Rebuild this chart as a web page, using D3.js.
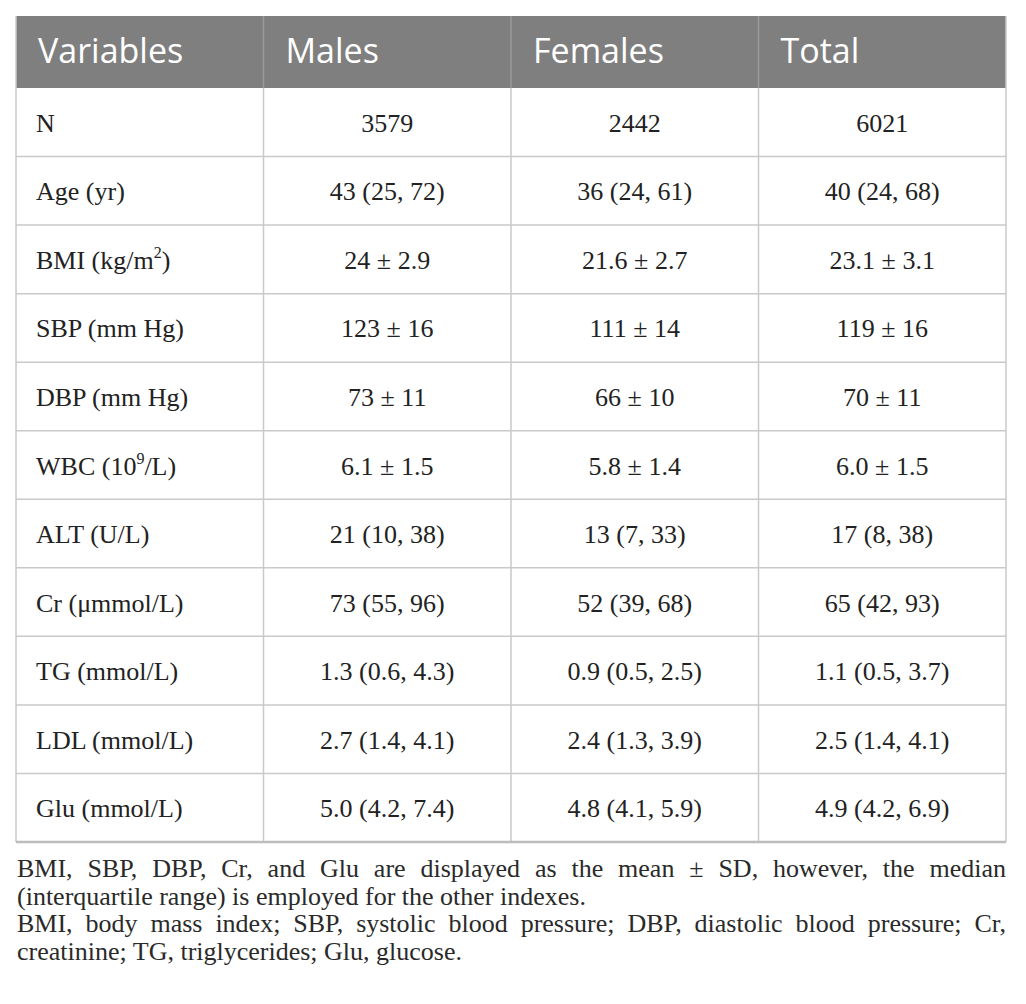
<!DOCTYPE html>
<html>
<head>
<meta charset="utf-8">
<script src="https://cdn.jsdelivr.net/npm/d3@7"></script>
<style>
  body { margin: 0; background: #fff; }
</style>
</head>
<body>
<div id="table"></div>
<script>
const width = 1026, height = 1004;

// Table content
const headers = ["Variables", "Males", "Females", "Total"];
const variables = ["N", "Age (yr)", "BMI (kg/m^2)", "SBP (mm Hg)", "DBP (mm Hg)", "WBC (10^9/L)",
    "ALT (U/L)", "Cr (\u03bcmmol/L)", "TG (mmol/L)", "LDL (mmol/L)", "Glu (mmol/L)"];
const males = ["3579", "43 (25, 72)", "24 \u00b1 2.9", "123 \u00b1 16", "73 \u00b1 11", "6.1 \u00b1 1.5",
    "21 (10, 38)", "73 (55, 96)", "1.3 (0.6, 4.3)", "2.7 (1.4, 4.1)", "5.0 (4.2, 7.4)"];
const females = ["2442", "36 (24, 61)", "21.6 \u00b1 2.7", "111 \u00b1 14", "66 \u00b1 10", "5.8 \u00b1 1.4",
    "13 (7, 33)", "52 (39, 68)", "0.9 (0.5, 2.5)", "2.4 (1.3, 3.9)", "4.8 (4.1, 5.9)"];
const total = ["6021", "40 (24, 68)", "23.1 \u00b1 3.1", "119 \u00b1 16", "70 \u00b1 11", "6.0 \u00b1 1.5",
    "17 (8, 38)", "65 (42, 93)", "1.1 (0.5, 3.7)", "2.5 (1.4, 4.1)", "4.9 (4.2, 6.9)"];
const footnotes = [
    ["BMI, SBP, DBP, Cr, and Glu are displayed as the mean \u00b1 SD, however, the median", true],
    ["(interquartile range) is employed for the other indexes.", false],
    ["BMI, body mass index; SBP, systolic blood pressure; DBP, diastolic blood pressure; Cr,", true],
    ["creatinine; TG, triglycerides; Glu, glucose.", false]
];

const table = {left: 16, right: 1006, top: 16, headerBottom: 88, bottom: 842};
const serif = "'Liberation Serif', 'DejaVu Serif', serif";
const gridColor = "#c9c9c9";

const svg = d3.select('#table').append('svg')
    .attr('width', width)
    .attr('height', height);

const x = d3.scaleBand()
    .domain(headers)
    .range([table.left, table.right]);

const y = d3.scaleBand()
    .domain(d3.range(variables.length))
    .range([table.headerBottom, table.bottom]);

// Header band
svg.append("rect")
    .attr("x", table.left)
    .attr("y", table.top)
    .attr("width", table.right - table.left)
    .attr("height", table.headerBottom - table.top)
    .attr("fill", "#7f7f7f");

svg.append("g")
    .selectAll("text")
    .data(headers)
    .enter().append("text")
    .attr("x", d => x(d) + 22)
    .attr("y", 63)
    .attr("font-family", "'Open Sans', sans-serif")
    .attr("font-size", 34)
    .attr("fill", "#fff")
    .text(d => d);

// Horizontal grid lines
svg.append("g")
    .selectAll("line")
    .data(d3.range(1, variables.length))
    .enter().append("line")
    .attr("x1", table.left)
    .attr("x2", table.right)
    .attr("y1", d => y(d))
    .attr("y2", d => y(d))
    .attr("stroke", gridColor)
    .attr("stroke-width", 1.5);

// Vertical lines: body
svg.append("g")
    .selectAll("line")
    .data(headers.slice(1))
    .enter().append("line")
    .attr("x1", d => x(d))
    .attr("x2", d => x(d))
    .attr("y1", table.headerBottom)
    .attr("y2", table.bottom)
    .attr("stroke", gridColor)
    .attr("stroke-width", 1.5);

// Vertical lines: header
svg.append("g")
    .selectAll("line")
    .data(headers.slice(1))
    .enter().append("line")
    .attr("x1", d => x(d))
    .attr("x2", d => x(d))
    .attr("y1", table.top)
    .attr("y2", table.headerBottom)
    .attr("stroke", "#9a9a9a")
    .attr("stroke-width", 1.5);

// Outer border
svg.append("line")
    .attr("x1", table.left).attr("x2", table.left)
    .attr("y1", table.top).attr("y2", table.bottom)
    .attr("stroke", gridColor).attr("stroke-width", 1.5);
svg.append("line")
    .attr("x1", table.right).attr("x2", table.right)
    .attr("y1", table.top).attr("y2", table.bottom)
    .attr("stroke", gridColor).attr("stroke-width", 1.5);
svg.append("line")
    .attr("x1", table.left).attr("x2", table.right)
    .attr("y1", table.bottom).attr("y2", table.bottom)
    .attr("stroke", "#bdbdbd").attr("stroke-width", 2.5);

// First column, superscripts written as ^x
const firstCol = svg.append("g")
    .attr("font-family", serif)
    .attr("font-size", 26)
    .attr("fill", "#222");

variables.forEach((v, i) => {
    const t = firstCol.append("text")
        .attr("x", table.left + 20)
        .attr("y", y(i) + y.bandwidth() / 2 + 9.5);
    let shift = 0;
    v.split(/(\^\d)/).filter(s => s).forEach(part => {
        if (part[0] === "^") {
            t.append("tspan")
                .attr("font-size", 16)
                .attr("dy", -11)
                .text(part.slice(1));
            shift = 11;
        } else {
            t.append("tspan").attr("dy", shift).text(part);
            shift = 0;
        }
    });
});

// Value columns
[males, females, total].forEach((col, ci) => {
    svg.append("g")
        .attr("font-family", serif)
        .attr("font-size", 26)
        .attr("fill", "#222")
        .selectAll("text")
        .data(col)
        .enter().append("text")
        .attr("x", x(headers[ci + 1]) + x.bandwidth() / 2)
        .attr("y", (d, i) => y(i) + y.bandwidth() / 2 + 9.5)
        .attr("text-anchor", "middle")
        .text(d => d);
});

// Footnotes, justified like the source
const notes = svg.append("g")
    .attr("font-family", serif)
    .attr("font-size", 26)
    .attr("fill", "#2a2a2a");

const noteX = 17, noteRight = 1006, noteY = 877, noteStep = 27.5;

footnotes.forEach(([line, justify], li) => {
    const ly = noteY + li * noteStep;
    if (!justify) {
        notes.append("text").attr("x", noteX).attr("y", ly).text(line);
        return;
    }
    const words = line.split(" ");
    const nodes = words.map(w => notes.append("text").attr("y", ly).text(w));
    const widths = nodes.map(n => n.node().getComputedTextLength());
    const gap = (noteRight - noteX - d3.sum(widths)) / (words.length - 1);
    let cx = noteX;
    nodes.forEach((n, i) => {
        n.attr("x", cx);
        cx += widths[i] + gap;
    });
});
</script>
</body>
</html>
